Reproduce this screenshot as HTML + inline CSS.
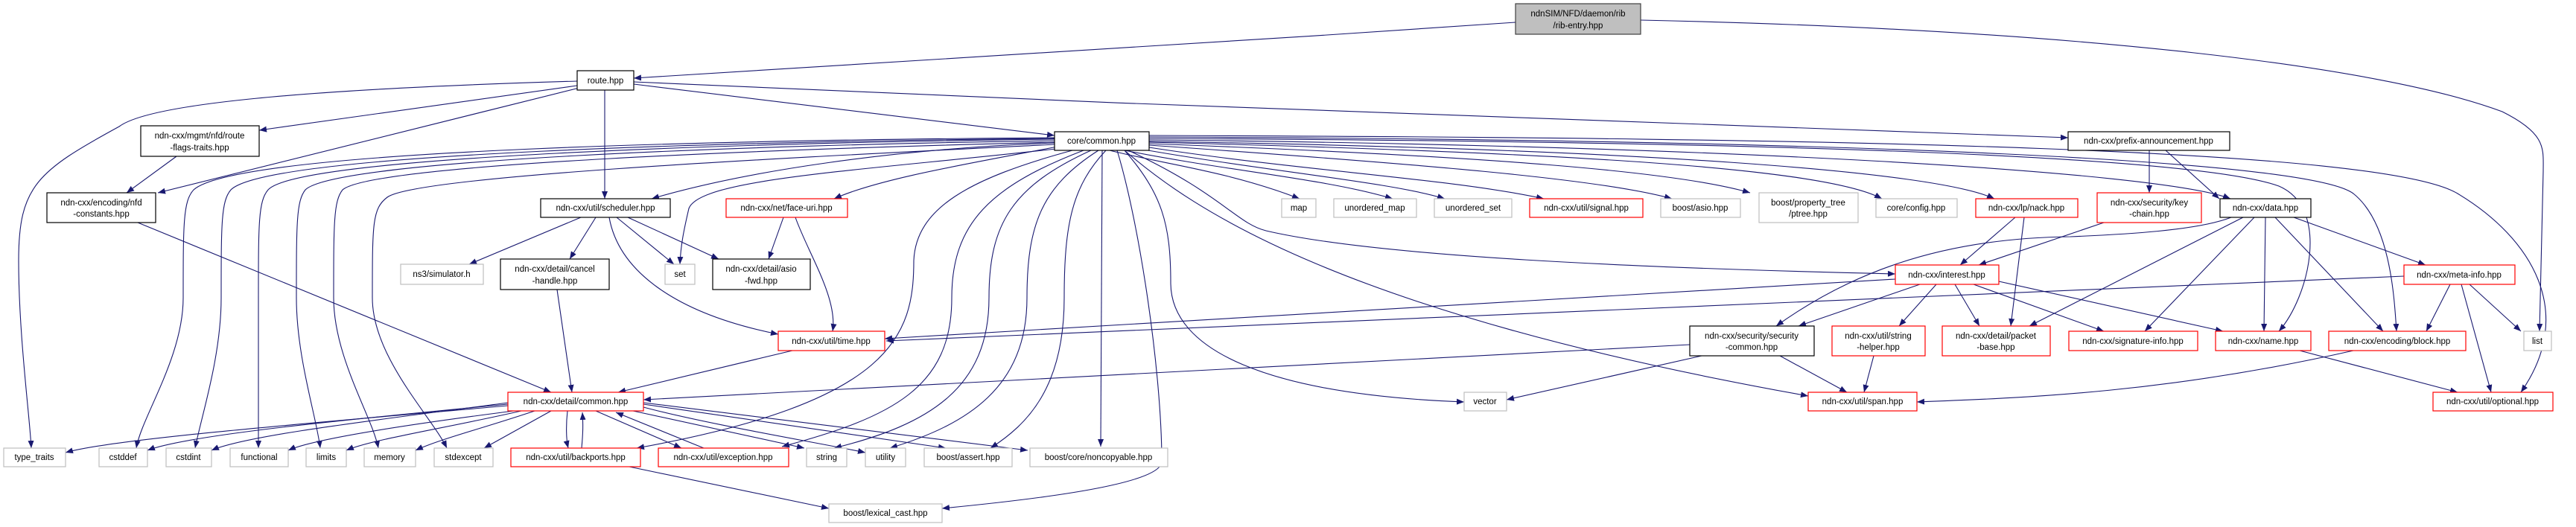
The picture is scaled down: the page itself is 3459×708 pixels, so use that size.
<!DOCTYPE html>
<html><head><meta charset="utf-8"><style>
html,body{margin:0;padding:0;background:#fff;}
svg{display:block;}
text{font-family:"Liberation Sans",sans-serif;font-size:11.5px;fill:#000;}
.e{fill:none;stroke:#191970;stroke-width:1.1;}
</style></head><body>
<svg width="3459" height="708" viewBox="0 0 3459 708" xmlns="http://www.w3.org/2000/svg">
<defs><marker id="a" markerUnits="userSpaceOnUse" markerWidth="12" markerHeight="10" refX="10" refY="4" orient="auto"><path d="M0,0 L10,4 L0,8 z" fill="#191970"/></marker></defs>
<g class="e" marker-end="url(#a)">
<path d="M2035,30 C1600,60 1100,90 851,105"/>
<path d="M2203,27 C2800,40 3200,90 3360,150 C3420,180 3415,200 3415,230 L3410,445"/>
<path d="M775,109 C400,120 200,140 160,170 C50,230 25,250 25,350 C25,450 40,560 42,602"/>
<path d="M775,115 L348,175"/>
<path d="M778,118 L212,259"/>
<path d="M812,121 L812,267"/>
<path d="M851,113 L1416,182"/>
<path d="M851,110 C1500,140 2300,170 2777,185"/>
<path d="M237,210 L170,259"/>
<path d="M185,299 L740,527"/>
<path d="M780,292 L630,355"/>
<path d="M800,292 L765,348"/>
<path d="M828,292 L905,355"/>
<path d="M843,292 L965,348"/>
<path d="M818,292 C830,360 900,420 1045,449"/>
<path d="M1052,292 L1032,348"/>
<path d="M1068,292 C1085,340 1125,400 1118,445"/>
<path d="M748,389 L768,527"/>
<path d="M1064,471 L830,527"/>
<path d="M682,545 C400,570 150,590 88,608"/>
<path d="M682,543 C450,565 250,585 198,605"/>
<path d="M682,541 C500,565 330,585 284,605"/>
<path d="M690,552 C550,570 420,590 387,605"/>
<path d="M700,552 C600,575 500,590 465,605"/>
<path d="M718,552 C650,575 590,590 558,605"/>
<path d="M740,552 L650,602"/>
<path d="M762,552 C760,570 760,590 763,602"/>
<path d="M781,602 C783,580 783,570 782,554"/>
<path d="M800,552 L915,602"/>
<path d="M945,602 L827,554"/>
<path d="M850,552 L1080,602"/>
<path d="M864,547 C950,570 1100,595 1162,608"/>
<path d="M864,543 L1270,602"/>
<path d="M864,541 L1380,605"/>
<path d="M845,627 L1113,683"/>
<path d="M1416,185 C1000,188 320,200 260,255 C246,270 246,300 246,400 C246,480 190,560 183,602"/>
<path d="M1416,186 C1000,190 360,205 310,255 C297,270 297,300 297,400 C297,480 270,560 262,602"/>
<path d="M1416,187 C1000,192 400,210 360,255 C347,270 347,300 347,400 L347,602"/>
<path d="M1416,189 C1000,195 450,215 410,255 C398,270 398,300 398,400 C398,480 425,560 430,602"/>
<path d="M1416,191 C1050,200 500,220 460,255 C448,270 448,300 448,400 C448,480 500,560 508,602"/>
<path d="M1416,194 C1100,210 560,235 520,265 C500,280 500,300 500,400 C500,480 580,560 600,602"/>
<path d="M1416,192 C1200,200 1000,230 875,267"/>
<path d="M1420,197 C1300,220 1180,240 1120,267"/>
<path d="M1418,200 C1150,230 940,240 925,280 C918,310 914,330 913,355"/>
<path d="M1440,202 C1300,240 1230,280 1227,350 C1227,450 1200,540 855,602"/>
<path d="M1455,202 C1330,250 1278,300 1278,400 C1278,520 1200,560 1050,600"/>
<path d="M1465,202 C1360,250 1328,300 1328,400 C1328,520 1250,570 1120,602"/>
<path d="M1475,202 C1400,250 1379,300 1379,400 C1379,520 1300,570 1195,602"/>
<path d="M1485,202 C1440,250 1429,300 1429,400 C1429,520 1380,570 1330,602"/>
<path d="M1480,202 L1478,600"/>
<path d="M1500,202 C1530,300 1560,500 1560,620 C1560,650 1400,670 1265,683"/>
<path d="M1510,202 C1560,260 1572,300 1572,380 C1572,470 1700,530 1966,540"/>
<path d="M1510,202 C1600,280 1800,420 2428,532"/>
<path d="M1515,202 C1640,260 1660,300 1700,310 C1850,345 2200,360 2545,368"/>
<path d="M1490,202 C1560,220 1650,230 1745,267"/>
<path d="M1510,202 C1650,230 1780,240 1870,267"/>
<path d="M1530,200 C1700,230 1870,245 1940,267"/>
<path d="M1543,198 C1750,230 1950,240 2073,267"/>
<path d="M1543,195 C1900,220 2150,240 2245,267"/>
<path d="M1543,193 C2000,210 2250,230 2350,259"/>
<path d="M1543,191 C2100,205 2450,225 2527,267"/>
<path d="M1543,190 C2200,200 2600,230 2678,267"/>
<path d="M1543,188 C2300,195 2900,230 2995,267"/>
<path d="M1543,186 C2400,190 2950,210 3060,250 C3130,280 3100,400 3060,445"/>
<path d="M1543,184 C2500,188 3100,215 3160,260 C3210,300 3215,400 3218,445"/>
<path d="M1543,182 C2500,185 3200,200 3300,260 C3400,320 3460,420 3385,527"/>
<path d="M2886,202 L2886,259"/>
<path d="M2908,202 L2980,267"/>
<path d="M2706,292 L2632,356"/>
<path d="M2718,292 L2700,438"/>
<path d="M2825,299 L2657,356"/>
<path d="M2996,292 C2950,310 2850,315 2780,318 C2600,320 2480,370 2385,438"/>
<path d="M3012,292 L2725,438"/>
<path d="M3027,292 L2880,445"/>
<path d="M3042,292 L3040,445"/>
<path d="M3055,292 L3200,445"/>
<path d="M3080,292 L3257,356"/>
<path d="M2578,382 L2415,438"/>
<path d="M2600,382 L2550,438"/>
<path d="M2625,382 L2658,438"/>
<path d="M2650,382 L2825,445"/>
<path d="M2684,378 L2985,445"/>
<path d="M3290,382 L3258,445"/>
<path d="M3305,382 L3345,527"/>
<path d="M3316,382 L3385,445"/>
<path d="M2516,478 L2503,527"/>
<path d="M2390,478 L2480,527"/>
<path d="M3160,471 C2900,530 2700,535 2574,540"/>
<path d="M3088,471 L3300,527"/>
<path d="M2285,478 L2023,537"/>
<path d="M2269,463 L864,537"/>
<path d="M2545,375 L1188,455"/>
<path d="M3228,371 L1190,458"/>
</g>
<g stroke-width="1.2">
<rect x="2035" y="5" width="168" height="41" fill="#bfbfbf" stroke="#404040"/>
<g fill="#fff" stroke="#000">
<rect x="775" y="95" width="76" height="26"/>
<rect x="189" y="169" width="159" height="41"/>
<rect x="63" y="259" width="146" height="40"/>
<rect x="726" y="267" width="174" height="25"/>
<rect x="672" y="348" width="146" height="41"/>
<rect x="957" y="348" width="131" height="41"/>
<rect x="1416" y="177" width="127" height="25"/>
<rect x="2777" y="177" width="217" height="25"/>
<rect x="2981" y="267" width="122" height="25"/>
<rect x="2269" y="438" width="167" height="40"/>
</g>
<g fill="#fff" stroke="#ff0000">
<rect x="975" y="267" width="163" height="25"/>
<rect x="1045" y="445" width="143" height="26"/>
<rect x="682" y="527" width="182" height="25"/>
<rect x="686" y="602" width="174" height="25"/>
<rect x="884" y="602" width="175" height="25"/>
<rect x="2054" y="267" width="152" height="25"/>
<rect x="2653" y="267" width="137" height="25"/>
<rect x="2816" y="259" width="140" height="40"/>
<rect x="2545" y="356" width="139" height="26"/>
<rect x="3228" y="356" width="149" height="26"/>
<rect x="2460" y="438" width="125" height="40"/>
<rect x="2608" y="438" width="145" height="40"/>
<rect x="2778" y="445" width="173" height="26"/>
<rect x="2975" y="445" width="128" height="26"/>
<rect x="3127" y="445" width="184" height="26"/>
<rect x="2428" y="527" width="146" height="25"/>
<rect x="3267" y="527" width="161" height="25"/>
</g>
<g fill="#fff" stroke="#bfbfbf">
<rect x="538" y="355" width="111" height="27"/>
<rect x="893" y="355" width="40" height="27"/>
<rect x="5" y="602" width="83" height="25"/>
<rect x="133" y="602" width="65" height="25"/>
<rect x="223" y="602" width="61" height="25"/>
<rect x="309" y="602" width="78" height="25"/>
<rect x="411" y="602" width="54" height="25"/>
<rect x="489" y="602" width="69" height="25"/>
<rect x="583" y="602" width="79" height="25"/>
<rect x="1083" y="602" width="54" height="25"/>
<rect x="1162" y="602" width="54" height="25"/>
<rect x="1241" y="602" width="118" height="25"/>
<rect x="1383" y="602" width="185" height="25"/>
<rect x="1113" y="677" width="152" height="25"/>
<rect x="1966" y="527" width="57" height="25"/>
<rect x="1721" y="267" width="46" height="25"/>
<rect x="1791" y="267" width="111" height="25"/>
<rect x="1926" y="267" width="104" height="25"/>
<rect x="2230" y="267" width="107" height="25"/>
<rect x="2362" y="259" width="133" height="40"/>
<rect x="2519" y="267" width="109" height="25"/>
<rect x="3389" y="445" width="37" height="26"/>
</g>
</g>
<g text-anchor="middle">
<text x="2119" y="22">ndnSIM/NFD/daemon/rib</text><text x="2119" y="38">/rib-entry.hpp</text>
<text x="813" y="112">route.hpp</text>
<text x="268" y="186">ndn-cxx/mgmt/nfd/route</text><text x="268" y="202">-flags-traits.hpp</text>
<text x="136" y="276">ndn-cxx/encoding/nfd</text><text x="136" y="291">-constants.hpp</text>
<text x="813" y="283">ndn-cxx/util/scheduler.hpp</text>
<text x="745" y="365">ndn-cxx/detail/cancel</text><text x="745" y="381">-handle.hpp</text>
<text x="1022" y="365">ndn-cxx/detail/asio</text><text x="1022" y="381">-fwd.hpp</text>
<text x="1479" y="193">core/common.hpp</text>
<text x="2885" y="193">ndn-cxx/prefix-announcement.hpp</text>
<text x="3042" y="283">ndn-cxx/data.hpp</text>
<text x="2352" y="455">ndn-cxx/security/security</text><text x="2352" y="470">-common.hpp</text>
<text x="1056" y="283">ndn-cxx/net/face-uri.hpp</text>
<text x="1116" y="462">ndn-cxx/util/time.hpp</text>
<text x="773" y="543">ndn-cxx/detail/common.hpp</text>
<text x="773" y="618">ndn-cxx/util/backports.hpp</text>
<text x="971" y="618">ndn-cxx/util/exception.hpp</text>
<text x="2130" y="283">ndn-cxx/util/signal.hpp</text>
<text x="2721" y="283">ndn-cxx/lp/nack.hpp</text>
<text x="2886" y="276">ndn-cxx/security/key</text><text x="2886" y="291">-chain.hpp</text>
<text x="2614" y="373">ndn-cxx/interest.hpp</text>
<text x="3302" y="373">ndn-cxx/meta-info.hpp</text>
<text x="2522" y="455">ndn-cxx/util/string</text><text x="2522" y="470">-helper.hpp</text>
<text x="2680" y="455">ndn-cxx/detail/packet</text><text x="2680" y="470">-base.hpp</text>
<text x="2864" y="462">ndn-cxx/signature-info.hpp</text>
<text x="3039" y="462">ndn-cxx/name.hpp</text>
<text x="3219" y="462">ndn-cxx/encoding/block.hpp</text>
<text x="2501" y="543">ndn-cxx/util/span.hpp</text>
<text x="3347" y="543">ndn-cxx/util/optional.hpp</text>
<text x="593" y="372">ns3/simulator.h</text>
<text x="913" y="372">set</text>
<text x="46" y="618">type_traits</text>
<text x="165" y="618">cstddef</text>
<text x="253" y="618">cstdint</text>
<text x="348" y="618">functional</text>
<text x="438" y="618">limits</text>
<text x="523" y="618">memory</text>
<text x="622" y="618">stdexcept</text>
<text x="1110" y="618">string</text>
<text x="1189" y="618">utility</text>
<text x="1300" y="618">boost/assert.hpp</text>
<text x="1475" y="618">boost/core/noncopyable.hpp</text>
<text x="1189" y="693">boost/lexical_cast.hpp</text>
<text x="1994" y="543">vector</text>
<text x="1744" y="283">map</text>
<text x="1846" y="283">unordered_map</text>
<text x="1978" y="283">unordered_set</text>
<text x="2283" y="283">boost/asio.hpp</text>
<text x="2428" y="276">boost/property_tree</text><text x="2428" y="291">/ptree.hpp</text>
<text x="2573" y="283">core/config.hpp</text>
<text x="3407" y="462">list</text>
</g>
</svg>
</body></html>
